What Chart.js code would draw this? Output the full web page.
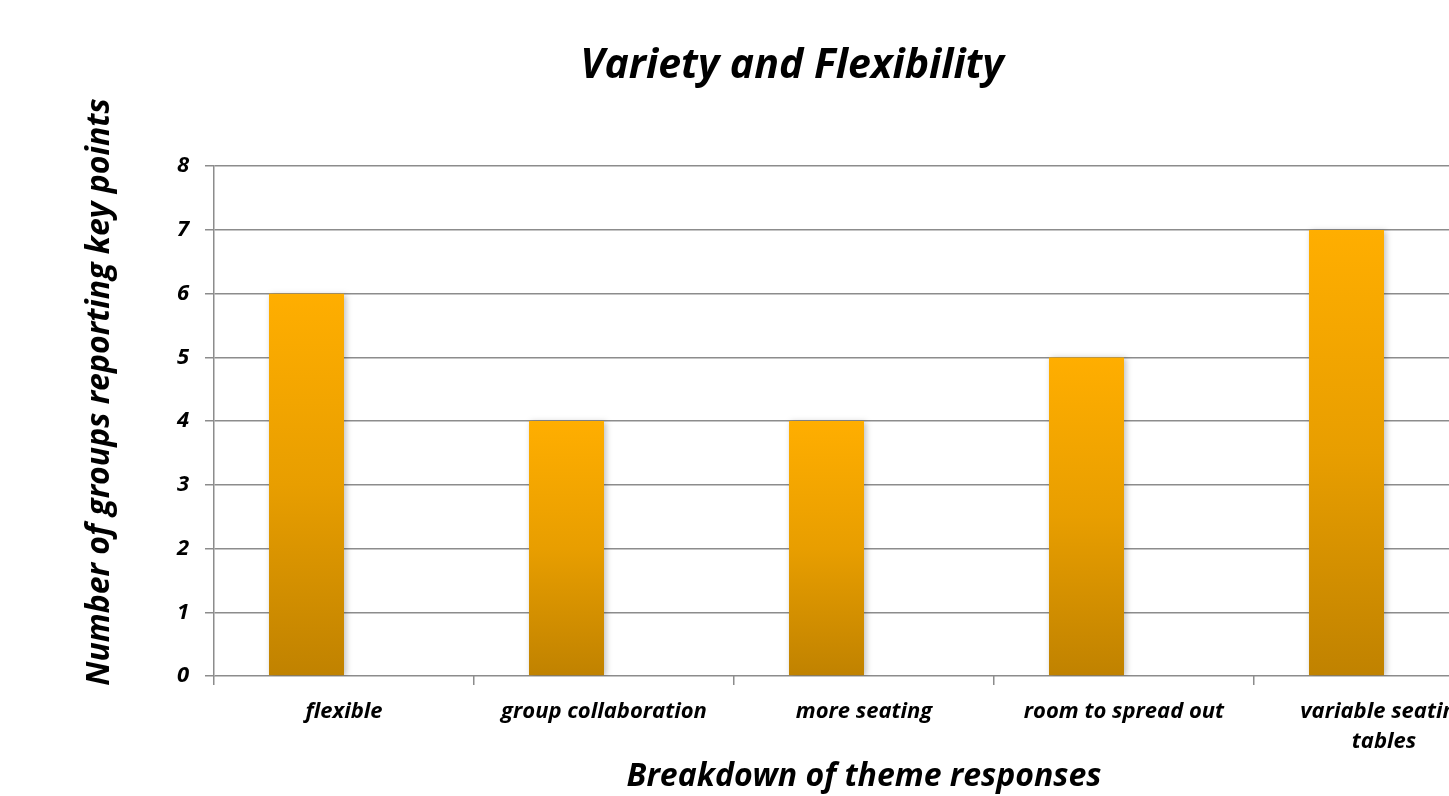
<!DOCTYPE html>
<html>
<head>
<meta charset="utf-8">
<script src="https://cdn.jsdelivr.net/npm/chart.js@4/dist/chart.umd.min.js"></script>
<style>
  html, body { margin: 0; padding: 0; background: #fff; overflow: hidden; }
  #wrap { position: absolute; left: 0; top: 0; }
</style>
</head>
<body>
<div id="wrap"><canvas id="chart" width="1568" height="796"></canvas></div>
<script>
// data
var categories = ['flexible', 'group collaboration', 'more seating', 'room to spread out', ['variable seating', 'tables']];
var groupCounts = [6, 4, 4, 5, 7];
// the source chart has a second, empty series that pushes the bars left of centre
var emptySeries = [null, null, null, null, null];
var yTicks = [0, 1, 2, 3, 4, 5, 6, 7, 8];
var yTitle = 'Number of groups reporting key points';

var FONT = "'Open Sans', 'Liberation Sans', sans-serif";
var gridColor = '#8c8c8c';

// per-bar vertical gradient, bright orange at top, darker at base
function barGradient(context) {
  var chart = context.chart;
  if (!chart.chartArea) return '#f0a000';
  var y = chart.scales.y;
  var v = context.raw;
  if (v == null) return 'rgba(0,0,0,0)';
  var top = y.getPixelForValue(v);
  var base = y.getPixelForValue(0);
  var g = chart.ctx.createLinearGradient(0, top, 0, base);
  g.addColorStop(0, '#ffae00');
  g.addColorStop(0.5, '#e89e00');
  g.addColorStop(1, '#c08200');
  return g;
}

// soft shadow behind bars
var barShadow = {
  id: 'barShadow',
  beforeDatasetsDraw: function(chart) {
    var ctx = chart.ctx;
    ctx.save();
    ctx.shadowColor = 'rgba(0,0,0,0.25)';
    ctx.shadowBlur = 6;
    ctx.shadowOffsetX = 2;
    ctx.shadowOffsetY = 1;
  },
  afterDatasetsDraw: function(chart) {
    chart.ctx.restore();
  }
};

// y axis title sits a bit above the axis middle in the original
var yTitlePlugin = {
  id: 'yTitle',
  afterDraw: function(chart) {
    var ctx = chart.ctx;
    var area = chart.chartArea;
    ctx.save();
    ctx.translate(100, (area.top + area.bottom) / 2 - 29);
    ctx.rotate(-Math.PI / 2);
    ctx.font = 'italic bold 32px ' + FONT;
    ctx.fillStyle = '#000';
    ctx.textAlign = 'center';
    ctx.textBaseline = 'middle';
    ctx.fillText(yTitle, 0, 0);
    ctx.restore();
  }
};

new Chart(document.getElementById('chart'), {
  type: 'bar',
  data: {
    labels: categories,
    datasets: [{
      data: groupCounts,
      backgroundColor: barGradient,
      borderWidth: 0,
      categoryPercentage: 0.577,
      barPercentage: 1.0
    }, {
      data: emptySeries,
      backgroundColor: barGradient,
      borderWidth: 0,
      categoryPercentage: 0.577,
      barPercentage: 1.0
    }]
  },
  plugins: [barShadow, yTitlePlugin],
  options: {
    responsive: false,
    animation: false,
    layout: { padding: { left: 70, right: 54, top: 0, bottom: 0 } },
    plugins: {
      legend: { display: false },
      tooltip: { enabled: false },
      title: {
        display: true,
        text: 'Variety and Flexibility',
        color: '#000',
        font: { family: FONT, size: 41, weight: 'bold', style: 'italic' },
        padding: { top: 42, bottom: 75 }
      }
    },
    scales: {
      x: {
        grid: {
          offset: true,
          drawOnChartArea: false,
          drawTicks: true,
          tickLength: 9,
          color: gridColor,
          lineWidth: 1.5
        },
        border: { display: false },
        ticks: {
          color: '#000',
          maxRotation: 0,
          autoSkip: false,
          padding: 11,
          font: { family: FONT, size: 22, weight: 'bold', style: 'italic', lineHeight: 1.4 }
        },
        title: {
          display: true,
          text: 'Breakdown of theme responses',
          color: '#000',
          font: { family: FONT, size: 32, weight: 'bold', style: 'italic' },
          padding: { top: 0, bottom: 0 }
        },
        afterFit: function(scale) { scale.height = 120; }
      },
      y: {
        min: 0,
        max: 8,
        afterBuildTicks: function(scale) {
          scale.ticks = yTicks.map(function(v) { return { value: v }; });
        },
        grid: {
          color: gridColor,
          lineWidth: 1.5,
          tickLength: 9
        },
        border: { display: true, color: gridColor, width: 1.5 },
        ticks: {
          color: '#000',
          padding: 16,
          font: { family: FONT, size: 22, weight: 'bold', style: 'italic' }
        },
        title: { display: false },
        afterFit: function(scale) { scale.width = 144; }
      }
    }
  }
});
</script>
</body>
</html>
